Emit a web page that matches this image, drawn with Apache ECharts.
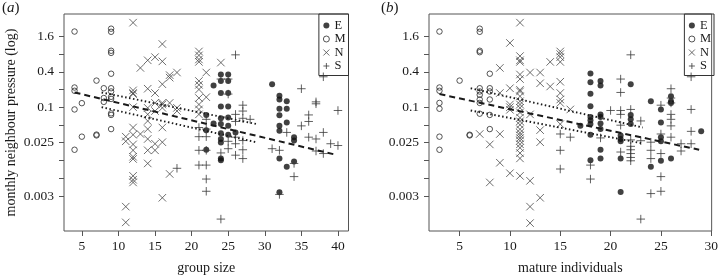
<!DOCTYPE html>
<html>
<head>
<meta charset="utf-8">
<script src="https://cdn.jsdelivr.net/npm/echarts@6/dist/echarts.min.js"></script>
<style>
  html, body { margin: 0; background: #fff; }
  #chart { width: 721px; height: 280px; }
</style>
</head>
<body>
<div id="chart"></div>
<script>
// (a) group size vs monthly neighbour pressure, by region
const sizeE = [[22,0.0737],[22,0.0406],[22,0.0188],[23,0.233],[23,0.0525],
  [24,0.36],[24,0.279],[24,0.174],[24,0.103],[24,0.0646],[24,0.0514],[24,0.0358],[24,0.0287],[24,0.025],[24,0.0133],[24,0.0125],
  [25,0.36],[25,0.279],[25,0.174],[25,0.103],[25,0.0664],[25,0.048],[25,0.0339],
  [26,0.0371],[31,0.246],
  [32,0.157],[32,0.135],[32,0.094],[32,0.0727],[32,0.048],[32,0.0398],[32,0.0133],[32,0.00356],
  [33,0.126],[33,0.094],[33,0.0547],[33,0.00967],
  [34,0.0308],[34,0.027],[34,0.0119]];
const sizeM = [[4,1.94],[4,0.216],[4,0.19],[4,0.0914],[4,0.0188],[5,0.117],[5,0.0314],
  [7,0.283],[7,0.0341],[7,0.033],[8,0.21],[8,0.143],[8,0.123],
  [9,2.17],[9,1.92],[9,0.913],[9,0.84],[9,0.371],[9,0.21],[9,0.185],[9,0.15],[9,0.138],[9,0.0785],[9,0.0737],[9,0.0423]];
const sizeN = [[11,0.0314],[11,0.0262],[11,0.00202],[11,0.00109],
  [12,2.75],[12,0.193],[12,0.174],[12,0.167],[12,0.1],[12,0.045],[12,0.0339],[12,0.0232],[12,0.0184],[12,0.0143],[12,0.0131],[12,0.00675],[12,0.0058],[12,0.00522],
  [13,0.466],[13,0.0349],
  [14,0.628],[14,0.206],[14,0.0973],[14,0.0753],[14,0.0582],[14,0.0423],[14,0.0287],[14,0.0184],[14,0.011],
  [15,0.711],[15,0.174],[15,0.118],[15,0.0858],[15,0.0238],[15,0.0184],
  [16,1.19],[16,0.602],[16,0.246],[16,0.118],[16,0.111],[16,0.0973],[16,0.045],[16,0.0253],[16,0.00286],
  [17,0.351],[17,0.318],[17,0.118],[17,0.00728],
  [18,0.389],[18,0.0973],[18,0.0858],
  [21,0.888],[21,0.762],[21,0.65],[21,0.59],[21,0.279],[21,0.24],[21,0.2],[21,0.143],[21,0.111],[21,0.0914],[21,0.0753],
  [22,0.389],[22,0.148],[24,0.574]];
const sizeS = [[18,0.00909],[21,0.045],[21,0.0314],[21,0.0184],[21,0.0103],
  [22,0.062],[22,0.0423],[22,0.0314],[22,0.0184],[22,0.0103],[22,0.00596],[22,0.00369],
  [24,0.301],[24,0.0166],[24,0.00124],
  [25,0.301],[25,0.167],[25,0.0262],[25,0.0196],
  [26,0.778],[26,0.0753],[26,0.057],[26,0.0308],[26,0.0238],[26,0.0152],
  [27,0.108],[27,0.0858],[27,0.0646],[27,0.027],[27,0.0188],[27,0.0133],
  [28,0.062],[31,0.0196],[32,0.0184],[32,0.00326],[33,0.0371],[34,0.011],[34,0.00656],
  [35,0.206],[35,0.048],[36,0.0737],[36,0.057],[36,0.0308],
  [37,0.123],[37,0.114],[37,0.0287],[37,0.0179],
  [38,0.329],[38,0.0371],[38,0.0162],[39,0.0238],[40,0.0877],[40,0.0222]];
const sizeFit = [[4,0.178],[39.5,0.0157]];
const sizeUpper = [[7.7,0.178],[28.8,0.0518]];
const sizeLower = [[7.7,0.1],[28.8,0.0253]];

// (b) mature individuals
const matureE = [[17,0.048],
  [18,0.376],[18,0.266],[18,0.169],[18,0.104],[18,0.0678],[18,0.0599],[18,0.0514],[18,0.0339],[18,0.0125],
  [19,0.279],[19,0.233],[19,0.0753],[19,0.0678],[19,0.0525],[19,0.0423],[19,0.0188],[19,0.0133],
  [21,0.0328],[21,0.0287],[21,0.0262],[21,0.0133],[21,0.00359],
  [22,0.246],[22,0.0737],[22,0.062],[22,0.0514],
  [24,0.126],[24,0.00967],
  [25,0.0914],[25,0.0547],[25,0.0308],[25,0.0262],[25,0.0122],
  [26,0.153],[26,0.126],[26,0.118],[26,0.0133],[29,0.0387]];
const matureM = [[3,1.94],[3,0.216],[3,0.19],[3,0.118],[3,0.094],[3,0.0314],[3,0.0188],[5,0.283],[6,0.0339],[6,0.033],
  [7,2.17],[7,1.92],[7,0.913],[7,0.863],[7,0.21],[7,0.185],[7,0.162],[7,0.135],[7,0.118],[7,0.0774],
  [8,0.371],[8,0.21],[8,0.185],[8,0.135],[8,0.0737],[8,0.0423]];
const matureN = [[7,0.0349],[8,0.0232],[8,0.00522],
  [9,0.466],[9,0.174],[9,0.0349],[9,0.0113],
  [10,1.24],[10,0.21],[10,0.111],[10,0.1],[10,0.0901],[10,0.00749],
  [11,2.75],[11,0.741],[11,0.628],[11,0.59],[11,0.36],[11,0.301],[11,0.197],[11,0.185],[11,0.153],[11,0.126],[11,0.111],[11,0.0973],[11,0.0812],
  [11,0.066],[11,0.0574],[11,0.05],[11,0.042],[11,0.0366],[11,0.033],[11,0.0297],[11,0.0268],[11,0.0233],[11,0.0203],[11,0.0165],[11,0.0134],[11,0.00675],
  [12,0.389],[12,0.0753],[12,0.00556],[12,0.00202],[12,0.00106],
  [13,0.389],[13,0.255],[13,0.0406],[13,0.0253],[13,0.00286],
  [14,0.59],[14,0.225],
  [15,0.888],[15,0.8],[15,0.711],[15,0.59],[15,0.271],[15,0.174],[15,0.135],[15,0.118],[15,0.0514],
  [16,0.0914]];
const matureS = [[15,0.0349],[15,0.0184],[15,0.00884],[16,0.0308],[18,0.0103],[18,0.00596],[19,0.0299],[20,0.0877],
  [21,0.301],[21,0.178],[21,0.0877],[21,0.0753],[21,0.0493],[21,0.0172],
  [22,0.778],[22,0.0914],[22,0.0277],[22,0.0215],[22,0.0188],[22,0.0162],[22,0.0139],[22,0.0122],
  [23,0.0582],[23,0.0268],[23,0.00124],
  [24,0.0253],[24,0.0184],[24,0.0133],[24,0.00337],
  [25,0.108],[25,0.0349],[25,0.0162],[25,0.00656],[25,0.00369],
  [26,0.206],[26,0.143],[26,0.118],[26,0.0753],[26,0.062],[26,0.048],[26,0.0308],
  [27,0.0238],[27,0.0179],
  [28,0.329],[28,0.0914],[28,0.0387],[28,0.0238]];
const matureFit = [[3,0.167],[28.8,0.0188]];
const matureUpper = [[6.1,0.21],[23.2,0.045]];
const matureLower = [[6.1,0.0877],[23.2,0.0241]];

// axes
const groups = ['E', 'M', 'N', 'S'];
const yTicks = [1.6, 0.8, 0.4, 0.2, 0.1, 0.05, 0.025, 0.0125, 0.00625, 0.003];
const yLabels = [1.6, 0.4, 0.1, 0.025, 0.003];
const yRange = [0.000777, 3.86];
const sizeTicks = [5, 10, 15, 20, 25, 30, 35, 40];
const sizeRange = [2.56, 41.44];
const matureTicks = [5, 10, 15, 20, 25, 30];
const matureRange = [1.96, 30.04];

const font = '"Liberation Serif", "DejaVu Serif", serif';
const ink = '#1a1a1a';
const frame = '#555';

const lg = v => Math.log2(v);
const toPts = arr => arr.map(([x, v]) => [x, lg(v)]);

const marks = {
  E: { symbol: 'circle', symbolSize: 6, itemStyle: { color: '#111' } },
  M: { symbol: 'circle', symbolSize: 5.5, itemStyle: { color: 'transparent', borderColor: '#2a2a2a', borderWidth: 1 } },
  N: { symbol: 'path://M0,0L10,10M10,0L0,10', symbolSize: 7.5, itemStyle: { color: 'transparent', borderColor: '#4a4a4a', borderWidth: 1 } },
  S: { symbol: 'path://M5,0L5,10M0,5L10,5', symbolSize: 8.5, itemStyle: { color: 'transparent', borderColor: '#3a3a3a', borderWidth: 1 } }
};

function makeX(gridIndex, range, ticks, name) {
  return {
    gridIndex, type: 'value', min: range[0], max: range[1],
    name, nameLocation: 'middle', nameGap: 30,
    nameTextStyle: { fontFamily: font, fontSize: 14, color: ink },
    axisLine: { show: false, onZero: false },
    axisTick: { customValues: ticks, length: 5, lineStyle: { color: frame } },
    axisLabel: { customValues: ticks, margin: 8, fontFamily: font, fontSize: 13.5, color: ink },
    splitLine: { show: false }
  };
}

function makeY(gridIndex, name) {
  return {
    gridIndex, type: 'value', min: lg(yRange[0]), max: lg(yRange[1]),
    name, nameLocation: 'middle', nameGap: 46, nameRotate: 90,
    nameTextStyle: { fontFamily: font, fontSize: 14, color: ink },
    axisLine: { show: false, onZero: false },
    axisTick: { customValues: yTicks.map(lg), length: 5, lineStyle: { color: frame } },
    axisLabel: {
      customValues: yLabels.map(lg), margin: 10, fontFamily: font, fontSize: 13.5, color: ink,
      formatter: v => String(+Math.pow(2, v).toPrecision(2))
    },
    splitLine: { show: false }
  };
}

function scatter(name, data, idx) {
  return Object.assign({
    name, type: 'scatter', xAxisIndex: idx, yAxisIndex: idx,
    data: toPts(data), silent: true
  }, marks[name]);
}

function fitLine(data, idx, dash, width) {
  return {
    type: 'line', xAxisIndex: idx, yAxisIndex: idx, data: toPts(data),
    symbol: 'none', silent: true, z: 5,
    lineStyle: { color: '#1a1a1a', width, type: dash }
  };
}

function makeLegend(right) {
  return {
    data: groups, orient: 'vertical', right, top: 14, align: 'left',
    itemWidth: 6, itemHeight: 6, itemGap: 0.5, padding: [5, 3, 3, 4],
    borderColor: '#333', borderWidth: 1, borderRadius: 0,
    itemStyle: { borderWidth: 1 },
    textStyle: { fontFamily: font, fontSize: 12.5, lineHeight: 11, color: ink }
  };
}

function panelTag(letter, left) {
  return {
    type: 'text', left, top: 1,
    style: {
      text: '{p|(}{i|' + letter + '}{p|)}',
      rich: {
        p: { fontFamily: font, fontSize: 15, fill: ink },
        i: { fontFamily: font, fontSize: 15, fontStyle: 'italic', fill: ink }
      }
    }
  };
}

const chart = echarts.init(document.getElementById('chart'), null, { renderer: 'canvas' });

const panels = [
  { E: sizeE, M: sizeM, N: sizeN, S: sizeS, fit: sizeFit, upper: sizeUpper, lower: sizeLower },
  { E: matureE, M: matureM, N: matureN, S: matureS, fit: matureFit, upper: matureUpper, lower: matureLower }
];

const series = [];
panels.forEach((p, idx) => {
  groups.forEach(g => series.push(scatter(g, p[g], idx)));
  series.push(fitLine(p.fit, idx, [6, 4], 2));
  series.push(fitLine(p.upper, idx, [1.5, 2.5], 1.9));
  series.push(fitLine(p.lower, idx, [1.5, 2.5], 1.9));
});

chart.setOption({
  animation: false,
  grid: [
    { left: 64, top: 14, width: 284.5, height: 221, show: true, borderColor: frame, borderWidth: 1 },
    { left: 429, top: 14, width: 285, height: 221, show: true, borderColor: frame, borderWidth: 1 }
  ],
  xAxis: [
    makeX(0, sizeRange, sizeTicks, 'group size'),
    makeX(1, matureRange, matureTicks, 'mature individuals')
  ],
  yAxis: [
    makeY(0, 'monthly neighbour pressure (log)'),
    makeY(1, '')
  ],
  legend: [makeLegend(721 - 348.5), makeLegend(721 - 714)],
  graphic: [panelTag('a', 2), panelTag('b', 381)],
  series
});
</script>
</body>
</html>
